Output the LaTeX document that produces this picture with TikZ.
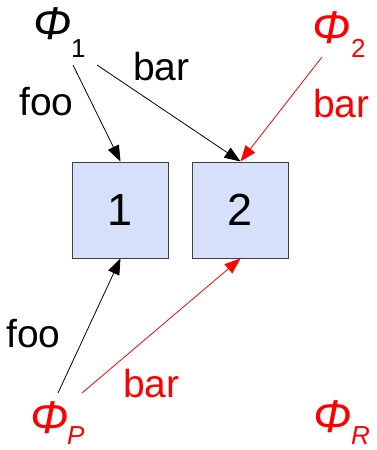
\documentclass[tikz,border=0pt]{standalone}
\usepackage{fontspec}
\setmainfont{Liberation Sans}
\usetikzlibrary{arrows.meta}
\definecolor{boxblue}{RGB}{214,224,250}
\begin{document}
\begin{tikzpicture}[x=1pt,y=-1pt,
  box/.style={draw=black!75, fill=boxblue, minimum width=96pt, minimum height=96pt, inner sep=0pt, line width=1pt, font=\fontsize{45}{45}\selectfont},
  lbl/.style={inner sep=0pt, anchor=base west, font=\fontsize{39}{39}\selectfont},
  phi/.style={inner sep=0pt, anchor=base west, font=\fontsize{46}{46}\selectfont\itshape},
  sub/.style={inner sep=0pt, anchor=base west, font=\fontsize{26}{26}\selectfont},
  isub/.style={sub, font=\fontsize{26}{26}\selectfont\itshape},
  arr/.style={line width=0.8pt, -{Triangle[length=16pt,width=12pt]}},
]
\useasboundingbox (0,0) rectangle (377,450);
% boxes
\node[box] (b1) at (120.5,210) {1};
\node[box] (b2) at (240.5,210) {2};
% Phi labels
\node[phi] (phi1) at (33,39) {Φ};
\node[sub] (phi1s) at (71,57) {1};
\node[phi, text=red] (phi2) at (312,43) {Φ};
\node[sub, text=red] (phi2s) at (351,57) {2};
\node[phi, text=red] (phiP) at (30,433) {Φ};
\node[isub, text=red] (phiPs) at (67,444) {P};
\node[phi, text=red] (phiR) at (313,432) {Φ};
\node[isub, text=red] (phiRs) at (351,444) {R};
% arrow ends
\coordinate (c1a) at (73,65);
\coordinate (c1b) at (97,65);
\coordinate (c2) at (322,57);
\coordinate (cPa) at (58,393);
\coordinate (cPb) at (82,393);
% connectors
\draw[arr] (c1a) -- (b1.north);
\draw[arr] (c1b) -- (b2.north);
\draw[arr, red] (c2) -- (b2.north);
\draw[arr] (cPa) -- (b1.south);
\draw[arr, red] (cPb) -- (b2.south);
% edge labels
\node[lbl] (l1) at (19,115) {foo};
\node[lbl] (l2) at (133,80) {bar};
\node[lbl, text=red] (l3) at (313,117) {bar};
\node[lbl] (l4) at (6,347) {foo};
\node[lbl, text=red] (l5) at (123,397) {bar};
\end{tikzpicture}
\end{document}
